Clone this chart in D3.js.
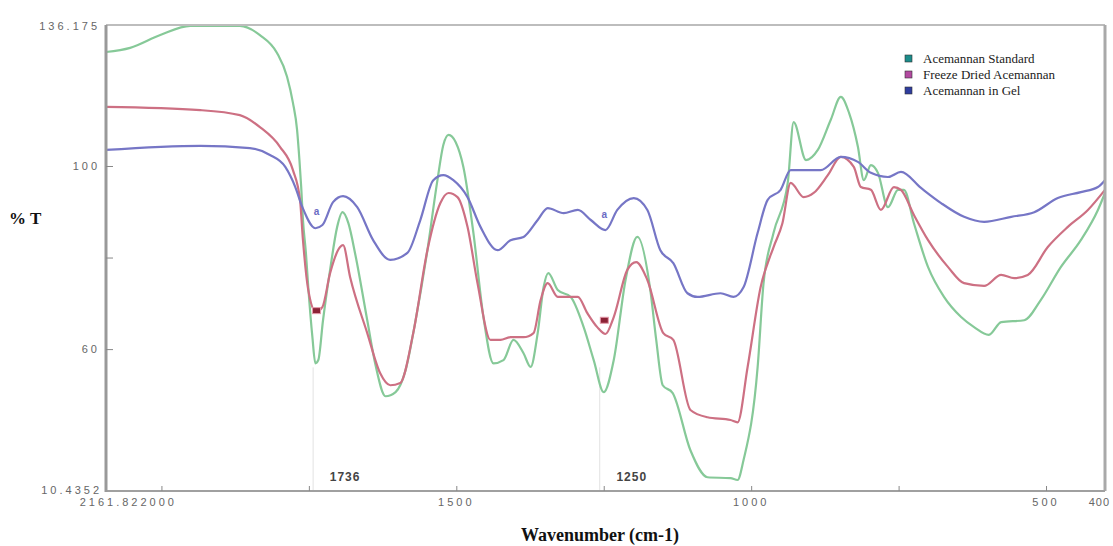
<!DOCTYPE html>
<html>
<head>
<meta charset="utf-8">
<script src="https://cdn.jsdelivr.net/npm/d3@7"></script>
<style>
  body { margin: 0; background: #fff; }
  svg { display: block; }
</style>
</head>
<body>
<div id="chart"></div>
<script>
// Series names, as in the legend
const seriesNames = ['Acemannan Standard', 'Freeze Dried Acemannan', 'Acemannan in Gel'];

// [wavenumber (cm-1), %T]
const standard = [
  [2094, 124.9], [2053, 125.8], [2002, 128.6], [1951, 130.6], [1867, 130.6], [1833, 128.6],
  [1804, 124.7], [1787, 119.5], [1777, 113.8], [1770, 107.9], [1766, 101.3], [1763, 95.4],
  [1760, 88.2], [1755, 81.0], [1751, 73.5], [1744, 62.6], [1739, 56.9], [1734, 57.6],
  [1726, 66.3], [1714, 77.3], [1702, 86.7], [1693, 89.9], [1683, 87.5], [1671, 80.5],
  [1651, 66.3], [1637, 56.5], [1620, 49.7], [1603, 50.6], [1586, 55.4], [1569, 66.3],
  [1549, 81.6], [1532, 96.9], [1522, 104.6], [1513, 106.8], [1501, 105.2], [1488, 99.8],
  [1471, 85.4], [1454, 67.0], [1437, 56.9], [1420, 57.6], [1403, 62.0], [1386, 59.1],
  [1374, 56.1], [1362, 63.5], [1352, 73.5], [1344, 76.6], [1328, 72.9], [1306, 71.4],
  [1284, 64.8], [1267, 57.6], [1250, 50.6], [1233, 57.6], [1213, 75.1], [1193, 84.5],
  [1171, 72.9], [1161, 62.0], [1150, 52.1], [1133, 50.4], [1103, 37.9], [1074, 32.0],
  [1035, 31.8], [1023, 31.4], [1013, 35.7], [989, 56.1], [979, 74.4], [962, 85.4],
  [938, 96.3], [928, 109.6], [907, 101.3], [887, 103.5], [865, 110.1], [848, 115.1],
  [834, 111.6], [819, 104.2], [809, 96.9], [797, 100.2], [785, 98.5], [768, 91.0],
  [751, 94.8], [741, 94.8], [724, 87.5], [700, 77.9], [673, 71.4], [644, 67.0],
  [622, 64.8], [597, 63.1], [576, 65.9], [537, 66.3], [509, 70.7], [475, 77.9],
  [441, 83.8], [412, 90.4], [400, 94.1]
];

const freezeDried = [
  [2094, 112.9], [1934, 112.2], [1867, 111.1], [1833, 108.5], [1799, 104.2], [1777, 99.1],
  [1765, 92.6], [1760, 83.8], [1751, 72.9], [1738, 68.1], [1727, 69.2], [1714, 76.6],
  [1697, 82.3], [1692, 82.7], [1680, 75.7], [1651, 63.5], [1629, 54.7], [1612, 52.1],
  [1595, 52.6], [1573, 63.5], [1549, 81.6], [1527, 91.9], [1513, 94.1], [1498, 93.2],
  [1481, 86.7], [1464, 74.4], [1442, 62.0], [1425, 62.0], [1408, 62.6], [1386, 62.6],
  [1369, 63.5], [1357, 70.7], [1345, 74.4], [1328, 71.4], [1294, 71.4], [1278, 67.9],
  [1261, 64.8], [1247, 63.3], [1233, 67.0], [1210, 77.3], [1195, 79.0], [1176, 75.1],
  [1149, 63.5], [1132, 62.0], [1103, 46.7], [1074, 45.1], [1035, 44.5], [1023, 44.0],
  [1006, 56.1], [984, 73.5], [962, 82.3], [947, 87.5], [933, 96.3], [911, 93.2],
  [894, 94.1], [870, 98.0], [848, 102.0], [826, 99.8], [814, 95.4], [797, 94.8],
  [780, 90.4], [758, 95.4], [746, 94.8], [724, 89.3], [700, 83.8], [666, 77.9],
  [639, 74.4], [605, 73.8], [576, 76.2], [554, 75.5], [531, 76.2], [497, 82.3],
  [463, 86.7], [429, 90.4], [400, 94.8]
];

const gel = [
  [2094, 103.5], [1934, 104.4], [1850, 103.9], [1816, 102.4], [1790, 99.8], [1773, 95.4],
  [1761, 91.0], [1739, 86.4], [1727, 87.1], [1709, 92.1], [1692, 93.4], [1668, 91.0],
  [1641, 83.8], [1612, 79.5], [1583, 81.0], [1561, 88.2], [1539, 96.9], [1522, 98.0],
  [1505, 96.9], [1481, 93.2], [1459, 86.7], [1430, 81.6], [1408, 83.8], [1386, 84.5],
  [1362, 88.2], [1345, 90.8], [1318, 89.7], [1294, 90.4], [1272, 88.2], [1247, 86.0],
  [1227, 90.4], [1199, 93.0], [1176, 90.4], [1154, 81.6], [1132, 78.8], [1108, 72.2],
  [1091, 71.4], [1052, 72.2], [1030, 71.4], [1013, 73.5], [989, 85.4], [972, 92.6],
  [950, 94.8], [933, 99.1], [911, 99.1], [882, 99.1], [848, 102.0], [819, 100.9],
  [797, 98.5], [768, 97.6], [746, 98.7], [712, 95.2], [678, 91.9], [639, 88.9],
  [605, 87.8], [559, 88.9], [520, 89.9], [480, 93.0], [441, 94.3], [412, 95.4],
  [400, 96.9]
];

// Peak-pick marks on the gel and freeze dried traces
const peakLabels = [1736, 1250];
const gelMarks = [[1737, 89.9], [1249, 89.4]];
const freezeMarks = [[1737, 68.4], [1249, 66.3]];

// Axis ticks and the instrument's end labels
const xTicks = [2000, 1750, 1500, 1250, 1000, 750, 500];
const xTickLabels = [2000, 1500, 1000, 500];
const yTicks = [100, 80, 60];
const yTickLabels = [100, 60];
const xEndLabels = ['2161.82', '400'];
const yEndLabels = ['136.175', '10.4352'];

const legendColors = ['#1b8c8a', '#b24aa0', '#2f3d9e'];
const lineColors = ['#86c998', '#cd7083', '#7676c6'];

const width = 1113;
const height = 546;
const margin = { top: 25, right: 8, bottom: 55, left: 106 };

const svg = d3.select('#chart')
  .append('svg')
  .attr('width', width)
  .attr('height', height)
  .style('font-family', 'Liberation Sans, Arial, sans-serif');

const x = d3.scaleLinear()
  .domain([2094, 400])
  .range([margin.left, width - margin.right]);

const y = d3.scaleLinear()
  .domain([29, 130.8])
  .range([height - margin.bottom, margin.top]);

const x0 = x.range()[0], x1 = x.range()[1];
const y0 = y.range()[0], y1 = y.range()[1];

// Faint guide lines under the annotated peaks
svg.append('g')
  .selectAll('line')
  .data(peakLabels)
  .join('line')
  .attr('x1', d => x(d) - 4)
  .attr('x2', d => x(d) - 4)
  .attr('y1', y(56))
  .attr('y2', y0)
  .attr('stroke', '#e2e2e2')
  .attr('stroke-width', 1);

// Spectra
const line = d3.line()
  .x(d => x(d[0]))
  .y(d => y(d[1]))
  .curve(d3.curveMonotoneX);

const series = [standard, freezeDried, gel];
svg.append('g')
  .selectAll('path')
  .data(series)
  .join('path')
  .attr('d', line)
  .attr('fill', 'none')
  .attr('stroke', (d, i) => lineColors[i])
  .attr('stroke-width', 2.2)
  .attr('stroke-linejoin', 'round');

// Peak marks
svg.append('g')
  .selectAll('text')
  .data(gelMarks)
  .join('text')
  .attr('x', d => x(d[0]))
  .attr('y', d => y(d[1]) + 3)
  .attr('text-anchor', 'middle')
  .style('font-size', '10px')
  .style('font-weight', 'bold')
  .attr('fill', '#6b6bc4')
  .text('a');

svg.append('g')
  .selectAll('rect')
  .data(freezeMarks)
  .join('rect')
  .attr('x', d => x(d[0]) - 4)
  .attr('y', d => y(d[1]) - 3)
  .attr('width', 8)
  .attr('height', 6)
  .attr('fill', '#8c2236')
  .attr('stroke', '#e59aaa')
  .attr('stroke-width', 1);

// Frame
const frame = svg.append('g').attr('fill', 'none');
frame.append('line').attr('x1', x0).attr('x2', x1).attr('y1', y1).attr('y2', y1)
  .attr('stroke', '#bdbdbd').attr('stroke-width', 2);
frame.append('line').attr('x1', x1).attr('x2', x1).attr('y1', y1).attr('y2', y0)
  .attr('stroke', '#a9a9a9').attr('stroke-width', 3);
frame.append('line').attr('x1', x0).attr('x2', x1).attr('y1', y0).attr('y2', y0)
  .attr('stroke', '#a0a0a0').attr('stroke-width', 2);
frame.append('line').attr('x1', x0).attr('x2', x0).attr('y1', y1).attr('y2', y0 + 1)
  .attr('stroke', '#999').attr('stroke-width', 3);

// Axes: inward ticks, labels drawn separately to mimic the scan
const xAxis = svg.append('g')
  .attr('transform', `translate(0,${y0})`)
  .call(d3.axisBottom(x).tickValues(xTicks).tickSize(-5).tickFormat(''));
xAxis.select('.domain').remove();
xAxis.selectAll('.tick line').attr('stroke', '#888');

const yAxis = svg.append('g')
  .attr('transform', `translate(${x0},0)`)
  .call(d3.axisLeft(y).tickValues(yTicks).tickSize(-7).tickFormat(''));
yAxis.select('.domain').remove();
yAxis.selectAll('.tick line').attr('stroke', '#888');

// The scanned labels are wide and blurry, so they get extra letter spacing
const labelStyle = sel => sel
  .style('font-size', '11px')
  .style('letter-spacing', '3px')
  .attr('fill', '#666');

svg.append('g')
  .selectAll('text')
  .data(xTickLabels)
  .join('text')
  .attr('x', d => x(d))
  .attr('y', y0 + 15)
  .attr('text-anchor', d => d === 2000 ? 'start' : 'middle')
  .attr('dx', d => d === 2000 ? -21 : 0)
  .call(labelStyle)
  .text(d => d);

svg.append('text')
  .attr('x', x(2000) - 21)
  .attr('y', y0 + 15)
  .attr('text-anchor', 'end')
  .call(labelStyle)
  .text(xEndLabels[0]);

svg.append('text')
  .attr('x', width - 3)
  .attr('y', y0 + 15)
  .attr('text-anchor', 'end')
  .call(labelStyle)
  .style('letter-spacing', '1px')
  .text(xEndLabels[1]);

svg.append('g')
  .selectAll('text')
  .data(yTickLabels)
  .join('text')
  .attr('x', x0 - 6)
  .attr('y', d => y(d) + 4)
  .attr('text-anchor', 'end')
  .call(labelStyle)
  .text(d => d);

svg.append('text')
  .attr('x', x0 - 6)
  .attr('y', y1 + 5)
  .attr('text-anchor', 'end')
  .call(labelStyle)
  .text(yEndLabels[0]);

svg.append('text')
  .attr('x', x0 - 4)
  .attr('y', y0 + 3)
  .attr('text-anchor', 'end')
  .call(labelStyle)
  .text(yEndLabels[1]);

// Bold peak annotations above the x axis
svg.append('g')
  .selectAll('text')
  .data(peakLabels)
  .join('text')
  .attr('x', d => x(d) + 28)
  .attr('y', y0 - 10)
  .attr('text-anchor', 'middle')
  .style('font-size', '12px')
  .style('font-weight', 'bold')
  .style('letter-spacing', '1px')
  .attr('fill', '#444')
  .text(d => d);

// Axis titles
svg.append('text')
  .attr('x', 9)
  .attr('y', 224)
  .style('font-family', 'Liberation Serif, Times New Roman, serif')
  .style('font-size', '17px')
  .style('font-weight', 'bold')
  .attr('fill', '#111')
  .text('% T');

svg.append('text')
  .attr('x', 600)
  .attr('y', 541)
  .attr('text-anchor', 'middle')
  .style('font-family', 'Liberation Serif, Times New Roman, serif')
  .style('font-size', '18px')
  .style('font-weight', 'bold')
  .attr('fill', '#111')
  .text('Wavenumber (cm-1)');

// Legend
const legend = svg.append('g')
  .attr('transform', 'translate(905,59)');

const legendItem = legend.selectAll('g')
  .data(seriesNames)
  .join('g')
  .attr('transform', (d, i) => `translate(0,${i * 16})`);

legendItem.append('rect')
  .attr('x', 0)
  .attr('y', -4)
  .attr('width', 7)
  .attr('height', 7)
  .attr('fill', (d, i) => legendColors[i])
  .attr('stroke', '#333')
  .attr('stroke-width', 0.6);

legendItem.append('text')
  .attr('x', 18)
  .attr('y', 4)
  .style('font-family', 'Liberation Serif, Times New Roman, serif')
  .style('font-size', '13px')
  .attr('fill', '#222')
  .text(d => d);
</script>
</body>
</html>
